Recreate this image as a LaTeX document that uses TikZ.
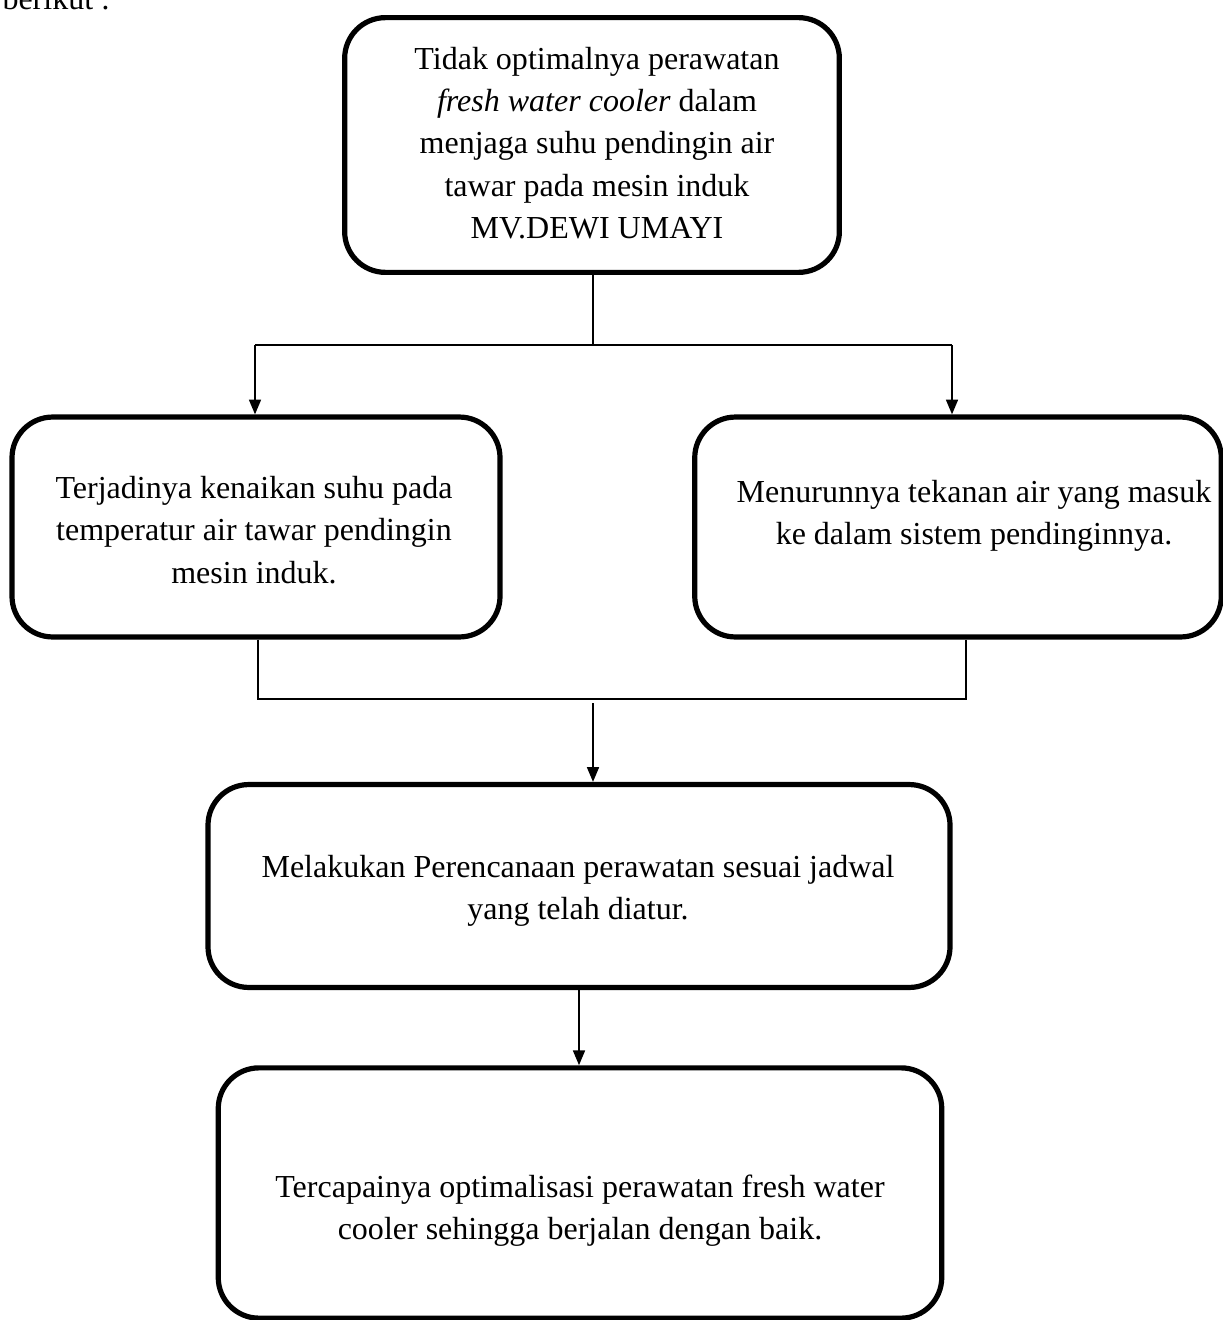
\documentclass[tikz,border=0pt]{standalone}
\usepackage{fontspec}
\setmainfont{Liberation Serif}
\usetikzlibrary{arrows.meta}

\begin{document}
\begin{tikzpicture}[x=0.0135cm, y=-0.0135cm]
    % Node styles
    \tikzset{box/.style={draw, line width=2pt, rounded corners=0.55cm, inner sep=0pt},
             boxtext/.style={align=center, font=\fontsize{12.3}{16.2}\selectfont, inner sep=0pt},
             link/.style={line width=0.8pt},
             arr/.style={link, -{Triangle[length=0.2cm, width=0.16cm]}}}
    \useasboundingbox (0,0) rectangle (1223,1320);

    % --- Cut-off line of the page above ---
    \node[boxtext, anchor=base west] (page_text) at (2,10) {berikut :};

    % --- Level 0: the problem ---
    \node[box, minimum width=6.68cm, minimum height=3.44cm] (problem) at (592,145) {};
    \node[boxtext] (problem_text) at (597,143) {Tidak optimalnya perawatan\\
        \textit{fresh water cooler} dalam\\ menjaga suhu pendingin air\\
        tawar pada mesin induk\\ MV.DEWI UMAYI};

    % --- Level 1: two causes ---
    \node[box, minimum width=6.59cm, minimum height=2.97cm] (cause_left) at (256,527) {};
    \node[boxtext] (cause_left_text) at (254,530) {Terjadinya kenaikan suhu pada\\
        temperatur air tawar pendingin\\ mesin induk.};
    \node[box, minimum width=7.11cm, minimum height=2.97cm] (cause_right) at (958,527) {};
    \node[boxtext] (cause_right_text) at (974,516) {Menurunnya tekanan air yang masuk\\
        ke dalam sistem pendinginnya.};

    % Edges from the problem
    \coordinate (split_c) at (593,345);
    \coordinate (split_l) at (255,345);
    \coordinate (split_r) at (952,345);
    \draw[link] (problem.south -| split_c) -- (split_c);
    \draw[link] (split_l) -- (split_r);
    \draw[arr] (split_l) -- (split_l |- cause_left.north);
    \draw[arr] (split_r) -- (split_r |- cause_right.north);

    % --- Level 2: the plan ---
    \node[box, minimum width=10.02cm, minimum height=2.74cm] (plan) at (579,886) {};
    \node[boxtext] (plan_text) at (578,891) {Melakukan Perencanaan perawatan sesuai jadwal\\
        yang telah diatur.};

    % Edges from the causes
    \coordinate (join_l) at (258,699);
    \coordinate (join_r) at (966,699);
    \coordinate (join_c) at (593,703);
    \draw[link] (join_l |- cause_left.south) -- (join_l) -- (join_r) -- (join_r |- cause_right.south);
    \draw[arr] (join_c) -- (join_c |- plan.north);

    % --- Level 3: the result ---
    \node[box, minimum width=9.77cm, minimum height=3.38cm] (result) at (580,1193) {};
    \node[boxtext] (result_text) at (580,1211) {Tercapainya optimalisasi perawatan fresh water\\
        cooler sehingga berjalan dengan baik.};

    % Edge from the plan
    \draw[arr] (plan.south) -- (plan.south |- result.north);

\end{tikzpicture}
\end{document}
